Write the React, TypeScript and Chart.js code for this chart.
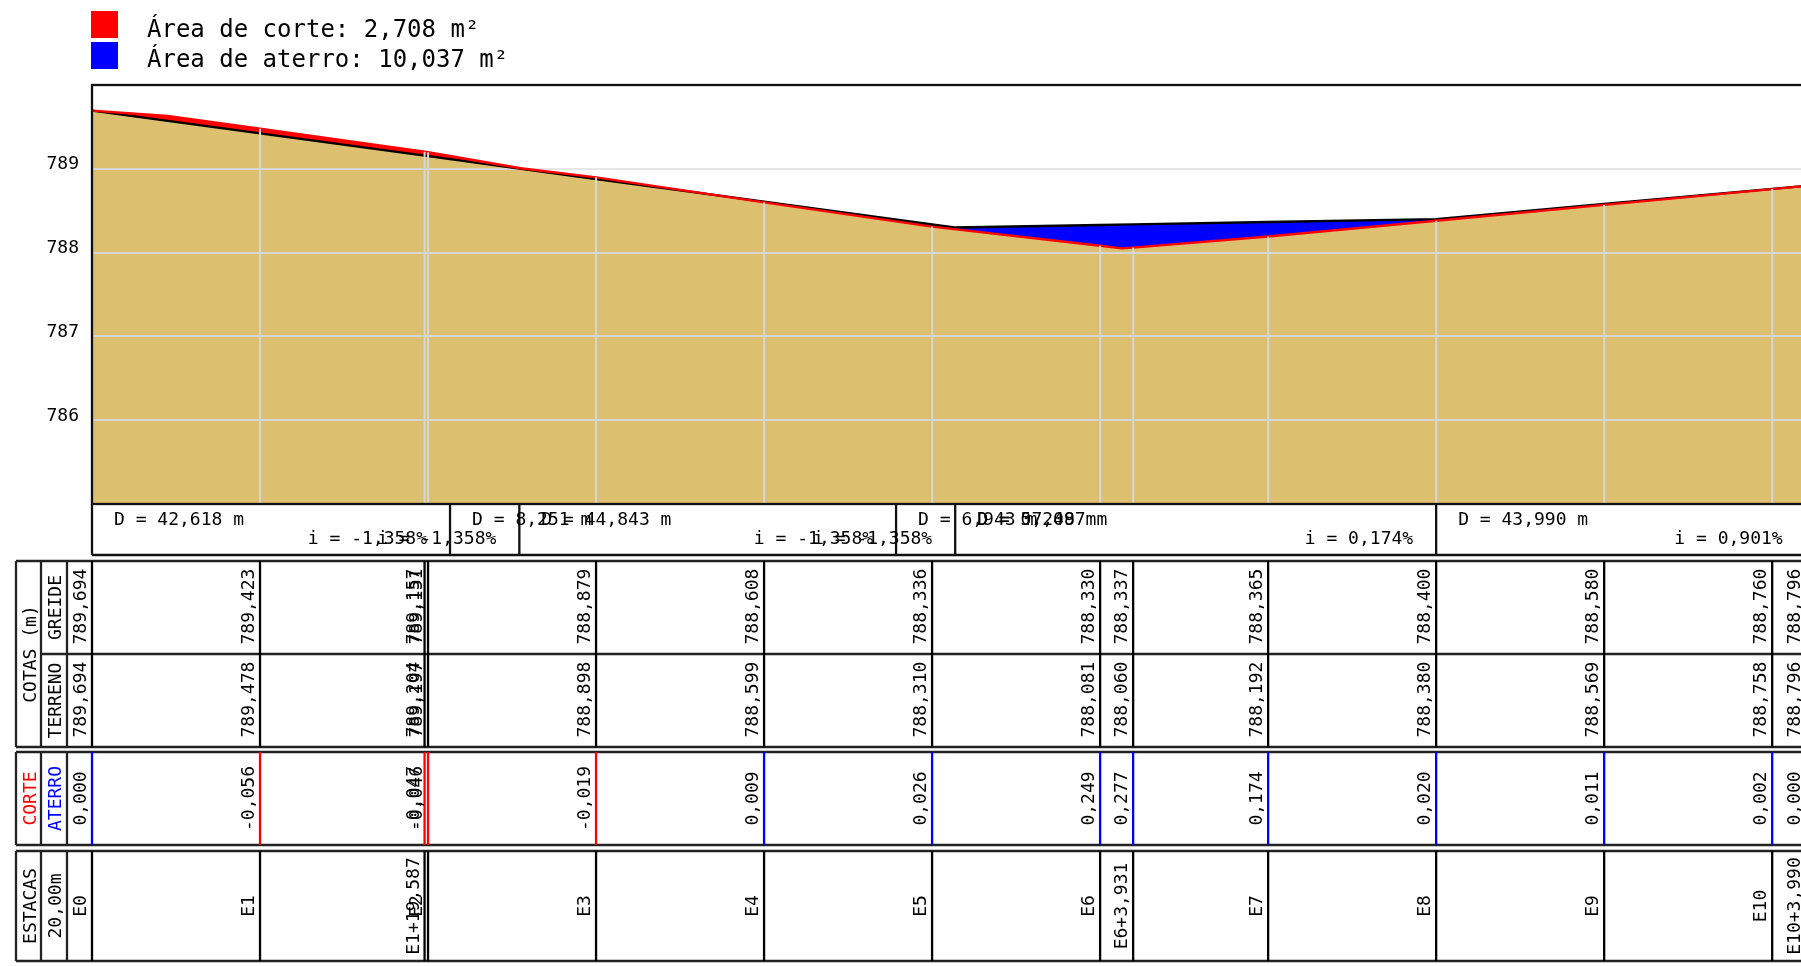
import React, { useEffect, useRef } from "react";
import { Chart, registerables } from "chart.js";

Chart.register(...registerables);

// ---------- data ----------
const stationDistance = [0, 20, 39.587, 40, 60, 80, 100, 120, 123.931, 140, 160, 180, 200, 203.99];
const stationLabels = ["E0", "E1", "E1+19,587", "E2", "E3", "E4", "E5", "E6", "E6+3,931", "E7", "E8", "E9", "E10", "E10+3,990"];
const greideValues = [789.694, 789.423, 789.157, 789.151, 788.879, 788.608, 788.336, 788.33, 788.337, 788.365, 788.4, 788.58, 788.76, 788.796];
const terrenoValues = [789.694, 789.478, 789.204, 789.197, 788.898, 788.599, 788.31, 788.081, 788.06, 788.192, 788.38, 788.569, 788.758, 788.796];
const corteAterroValues = [0, -0.056, -0.047, -0.046, -0.019, 0.009, 0.026, 0.249, 0.277, 0.174, 0.02, 0.011, 0.002, 0];

// survey points of the ground line that are not stations
const terrenoExtraDistance = [9, 51, 122.6];
const terrenoExtraValues = [789.63, 789.006, 788.05];
// slope change of the grade line
const greideVertexDistance = [102.655];
const greideVertexValues = [788.3];

// grade table
const gradeBreaks = [42.618, 50.869, 95.712, 102.75, 160, 203.99];
const gradeSlopes = ["-1,358", "-1,358", "-1,358", "-1,358", "0,174", "0,901"];
const gradeLengths = [42.618, 8.251, 44.843, 6.943, 0.248, 57.097, 43.99];
const gradeLengthStarts = [0, 42.618, 50.869, 95.712, 102.75, 102.75, 160];

const yTicksShown = [786, 787, 788, 789];
const legendLabels = ["Área de corte: 2,708 m²", "Área de aterro: 10,037 m²"];

const COLOR_GROUND = "#dcc070";
const COLOR_GRID = "#d6d6d6";
const COLOR_GRID_AIR = "#e6e6e6";
const LINE = 2.3;
const FONT = '"DejaVu Sans Mono", monospace';

const merge = (xa: number[], ya: number[], xb: number[], yb: number[]) =>
  [...xa.map((x, i) => ({ x, y: ya[i] })), ...xb.map((x, i) => ({ x, y: yb[i] }))].sort((p, q) => p.x - q.x);

const fmt = (v: number) => v.toFixed(3).replace(".", ",");

function vText(ctx: CanvasRenderingContext2D, s: string, x: number, y: number, align: CanvasTextAlign, color = "#000") {
  ctx.save();
  ctx.translate(x, y);
  ctx.rotate(-Math.PI / 2);
  ctx.textAlign = align;
  ctx.textBaseline = "middle";
  ctx.fillStyle = color;
  ctx.fillText(s, 0, 0);
  ctx.restore();
}

const hGridPlugin = {
  id: "hGrid",
  afterDatasetDraw(chart: any, args: any) {
    if (args.index !== 2) return;
    const { ctx, scales, chartArea } = chart;
    ctx.save();
    ctx.lineWidth = 2;
    const drawAll = () =>
      yTicksShown.forEach((t) => {
        const y = Math.round(scales.y.getPixelForValue(t));
        ctx.beginPath();
        ctx.moveTo(chartArea.left, y);
        ctx.lineTo(chartArea.right, y);
        ctx.stroke();
      });
    // stronger over the ground, fainter over the empty background
    ctx.globalCompositeOperation = "source-atop";
    ctx.strokeStyle = COLOR_GRID;
    drawAll();
    ctx.globalCompositeOperation = "destination-over";
    ctx.strokeStyle = COLOR_GRID_AIR;
    drawAll();
    ctx.restore();
  },
};

const tablePlugin = {
  id: "profileTable",
  afterDraw(chart: any) {
    const { ctx, scales, chartArea, width } = chart;
    const sx = (d: number) => scales.x.getPixelForValue(d);
    const L = chartArea.left;
    const T = chartArea.top;
    const B = chartArea.bottom;
    ctx.save();

    // vertical grid, from the bottom up to the ground line
    ctx.strokeStyle = COLOR_GRID;
    ctx.lineWidth = 2;
    stationDistance.forEach((d, i) => {
      if (i === 0) return;
      const x = sx(d);
      ctx.beginPath();
      ctx.moveTo(x, B);
      ctx.lineTo(x, scales.y.getPixelForValue(terrenoValues[i]));
      ctx.stroke();
    });

    // plot frame
    ctx.strokeStyle = "#111";
    ctx.lineWidth = LINE;
    ctx.strokeRect(L, T, chartArea.right - L, B - T);

    // legend
    ctx.fillStyle = "#ff0000";
    ctx.fillRect(91, 11, 27, 27);
    ctx.fillStyle = "#0000ff";
    ctx.fillRect(91, 42, 27, 27);
    ctx.fillStyle = "#000";
    ctx.font = `24px ${FONT}`;
    ctx.textAlign = "left";
    ctx.textBaseline = "middle";
    ctx.fillText(legendLabels[0], 147, 31);
    ctx.fillText(legendLabels[1], 147, 61);

    // grade table
    const gTop = B;
    const gBot = 555;
    ctx.strokeStyle = "#111";
    ctx.lineWidth = LINE;
    ctx.beginPath();
    ctx.moveTo(L, gTop);
    ctx.lineTo(L, gBot);
    ctx.moveTo(L, gBot);
    ctx.lineTo(width, gBot);
    gradeBreaks.forEach((d) => {
      ctx.moveTo(sx(d), gTop);
      ctx.lineTo(sx(d), gBot);
    });
    ctx.stroke();
    ctx.font = `18px ${FONT}`;
    ctx.fillStyle = "#000";
    ctx.textBaseline = "middle";
    ctx.textAlign = "left";
    gradeLengths.forEach((len, i) => {
      ctx.fillText(`D = ${fmt(len)} m`, sx(gradeLengthStarts[i]) + 22, 520);
    });
    ctx.textAlign = "right";
    gradeSlopes.forEach((s, i) => {
      ctx.fillText(`i = ${s}%`, sx(gradeBreaks[i]) - 23, 539);
    });

    // lower tables
    const cols = [16, 41, 67];
    const tables = [
      [561, 747],
      [752, 845],
      [851, 961],
    ];
    ctx.strokeStyle = "#222";
    ctx.lineWidth = LINE;
    ctx.beginPath();
    tables.forEach(([a, b]) => {
      ctx.moveTo(cols[0], a);
      ctx.lineTo(width, a);
      ctx.moveTo(cols[0], b);
      ctx.lineTo(width, b);
      cols.forEach((c) => {
        ctx.moveTo(c, a);
        ctx.lineTo(c, b);
      });
    });
    ctx.moveTo(cols[1], 654);
    ctx.lineTo(width, 654);
    ctx.stroke();

    // station lines
    ctx.strokeStyle = "#000";
    ctx.beginPath();
    stationDistance.forEach((d) => {
      const x = sx(d);
      ctx.moveTo(x, 561);
      ctx.lineTo(x, 747);
      ctx.moveTo(x, 851);
      ctx.lineTo(x, 961);
    });
    ctx.stroke();
    stationDistance.forEach((d, i) => {
      const x = sx(d);
      ctx.strokeStyle = corteAterroValues[i] < 0 ? "#ff0000" : "#0000ff";
      ctx.beginPath();
      ctx.moveTo(x, 752);
      ctx.lineTo(x, 845);
      ctx.stroke();
    });

    // row headers
    ctx.font = `18px ${FONT}`;
    vText(ctx, "COTAS (m)", 31.5, 654, "center");
    vText(ctx, "GREIDE", 56, 607.5, "center");
    vText(ctx, "TERRENO", 56, 700.5, "center");
    vText(ctx, "CORTE", 31.5, 798.5, "center", "#ff0000");
    vText(ctx, "ATERRO", 56, 798.5, "center", "#0000ff");
    vText(ctx, "ESTACAS", 31.5, 906, "center");
    vText(ctx, "20,00m", 56, 906, "center");

    // cell values
    stationDistance.forEach((d, i) => {
      const x = sx(d) - 10.5;
      vText(ctx, fmt(greideValues[i]), x, 644.5, "left");
      vText(ctx, fmt(terrenoValues[i]), x, 737.5, "left");
      vText(ctx, fmt(corteAterroValues[i]), x, 798.5, "center");
      vText(ctx, stationLabels[i], x, 906, "center");
    });
    ctx.restore();
  },
};

export default function App() {
  const ref = useRef<HTMLCanvasElement | null>(null);
  useEffect(() => {
    document.body.style.margin = "0";
    const terreno = merge(stationDistance, terrenoValues, terrenoExtraDistance, terrenoExtraValues);
    const greide = merge(stationDistance, greideValues, greideVertexDistance, greideVertexValues);
    const chart = new Chart(ref.current as HTMLCanvasElement, {
      type: "line",
      data: {
        datasets: [
          {
            label: "Terreno",
            data: terreno,
            borderColor: "#ff0000",
            borderWidth: 2.4,
            pointRadius: 0,
            fill: false,
            order: 1,
          },
          {
            label: "Greide",
            data: greide,
            borderColor: "#000000",
            borderWidth: 2.4,
            pointRadius: 0,
            fill: { target: 0, above: "#0000ff", below: "#ff0000" },
            order: 2,
          },
          {
            label: "Solo",
            data: terreno,
            borderColor: "transparent",
            borderWidth: 0,
            pointRadius: 0,
            backgroundColor: COLOR_GROUND,
            fill: "start",
            order: 3,
          },
        ],
      } as any,
      options: {
        animation: false,
        responsive: false,
        parsing: false,
        layout: { padding: { top: 85, bottom: 462, left: 0, right: 24.3 } },
        plugins: { legend: { display: false }, tooltip: { enabled: false } },
        scales: {
          x: { type: "linear", min: 0, max: 203.99, display: false },
          y: {
            type: "linear",
            min: 785,
            max: 790,
            afterFit: (s: any) => {
              s.width = 92;
            },
            grid: { display: false, drawTicks: false },
            border: { display: false },
            ticks: {
              stepSize: 1,
              padding: 13,
              labelOffset: -4,
              color: "#000",
              font: { family: "DejaVu Sans Mono", size: 18 },
              callback: (v: any) => (yTicksShown.includes(Number(v)) ? String(v) : null),
            },
          },
        },
      } as any,
      plugins: [hGridPlugin, tablePlugin],
    });
    return () => chart.destroy();
  }, []);
  return (
    <div style={{ width: 1801, height: 966, overflow: "hidden" }}>
      <canvas ref={ref} width={1830} height={966} style={{ display: "block" }} />
    </div>
  );
}
